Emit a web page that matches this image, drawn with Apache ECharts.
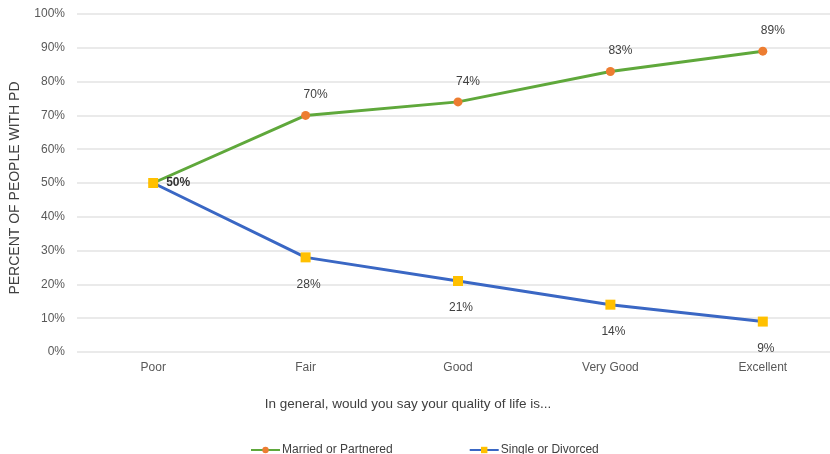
<!DOCTYPE html>
<html>
<head>
<meta charset="utf-8">
<script src="https://cdn.jsdelivr.net/npm/echarts@6/dist/echarts.min.js"></script>
<style>html,body{margin:0;padding:0;background:#fff}#c{width:830px;height:454px}</style>
</head>
<body>
<div id="c"></div>
<script>
const categories = ['Poor', 'Fair', 'Good', 'Very Good', 'Excellent'];
const married = [50, 70, 74, 83, 89];
const single = [50, 28, 21, 14, 9];
const yTicks = [0, 10, 20, 30, 40, 50, 60, 70, 80, 90, 100];

const chart = echarts.init(document.getElementById('c'));
const font = 'Liberation Sans, Arial, sans-serif';

chart.setOption({
  animation: false,
  textStyle: { fontFamily: font },
  grid: { left: 77, width: 762, top: 14, height: 338, outerBoundsMode: 'none' },
  xAxis: {
    type: 'category',
    data: categories,
    boundaryGap: true,
    axisLine: { show: false },
    axisTick: { show: false },
    axisLabel: { color: '#595959', fontSize: 12, margin: 10 },
    name: 'In general, would you say your quality of life is...',
    nameLocation: 'middle',
    nameGap: 45,
    nameTextStyle: { color: '#404040', fontSize: 13.5, padding: [0, 0, 0, -100] }
  },
  yAxis: {
    type: 'value',
    min: yTicks[0],
    max: yTicks[yTicks.length - 1],
    interval: 10,
    axisLine: { show: false },
    axisTick: { show: false },
    splitLine: { lineStyle: { color: '#e3e3e3', width: 1.5 } },
    axisLabel: { color: '#595959', fontSize: 12, margin: 12, formatter: v => v + '%' },
    name: 'PERCENT OF PEOPLE WITH PD',
    nameLocation: 'middle',
    nameRotate: 90,
    nameGap: 55,
    nameTextStyle: { color: '#404040', fontSize: 14, padding: [0, 0, 0, -10] }
  },
  legend: {
    bottom: -7,
    left: 245,
    itemGap: 76,
    itemWidth: 29,
    itemHeight: 8,
    textStyle: { color: '#404040', fontSize: 12, padding: [0, 0, 0, -3] },
    data: ['Married or Partnered', 'Single or Divorced']
  },
  series: [
    {
      name: 'Married or Partnered',
      type: 'line',
      data: married,
      symbol: 'circle',
      symbolSize: 9,
      lineStyle: { color: '#5fa83b', width: 3 },
      itemStyle: { color: '#ed7d31' },
      z: 2,
      label: {
        show: true,
        position: 'top',
        distance: 10,
        offset: [10, 0],
        color: '#404040',
        fontSize: 12,
        formatter: p => p.dataIndex === 0 ? '' : p.value + '%'
      }
    },
    {
      name: 'Single or Divorced',
      type: 'line',
      data: single.map((v, i) => i === 0
        ? { value: v, label: { position: 'right', distance: 8, offset: [0, 0], fontWeight: 'bold', color: '#333' } }
        : v),
      symbol: 'rect',
      symbolSize: 10,
      lineStyle: { color: '#3a67c4', width: 3 },
      itemStyle: { color: '#ffc000' },
      z: 3,
      label: {
        show: true,
        position: 'bottom',
        distance: 16,
        offset: [3, 0],
        color: '#404040',
        fontSize: 12,
        formatter: p => p.value + '%'
      },
      emphasis: { disabled: true }
    }
  ]
});
</script>
</body>
</html>
